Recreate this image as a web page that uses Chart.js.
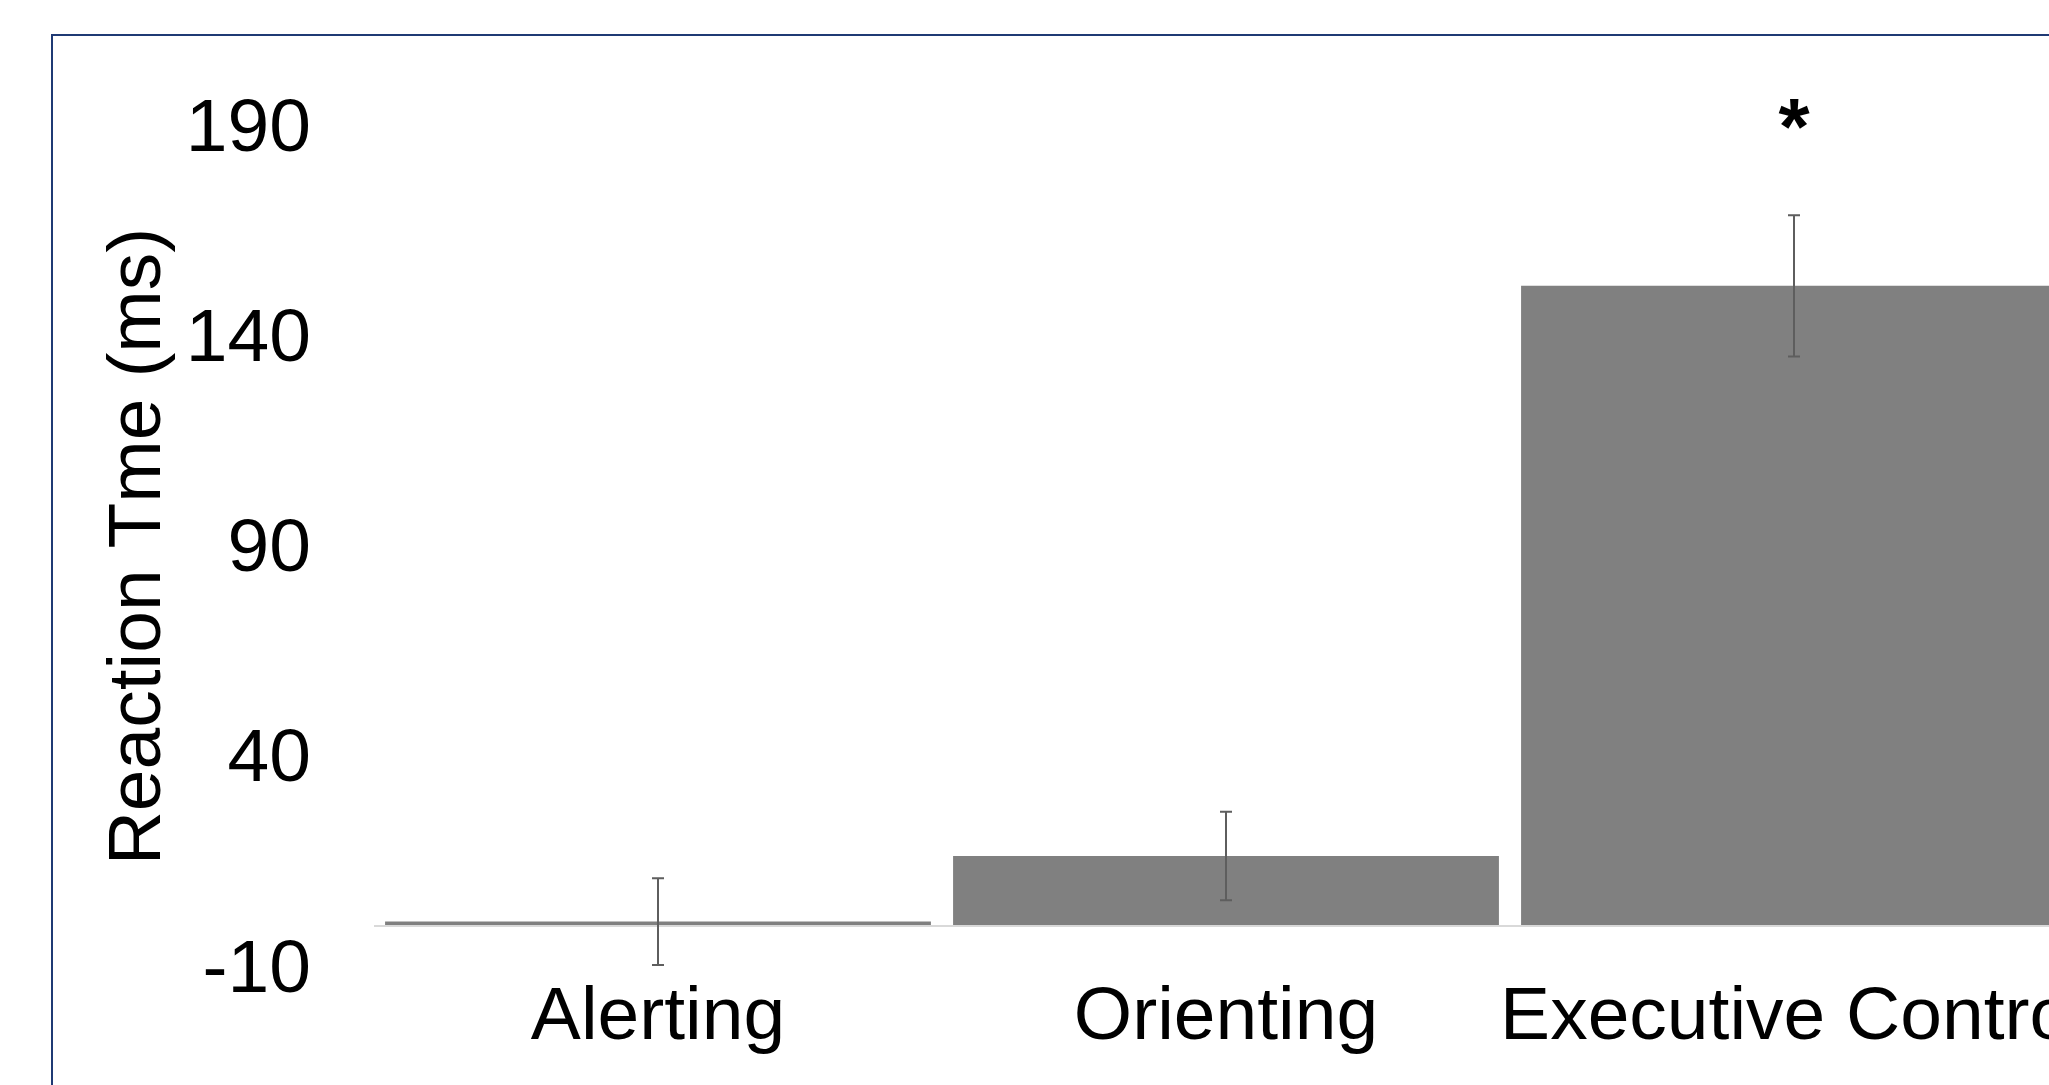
<!DOCTYPE html>
<html>
<head>
<meta charset="utf-8">
<title>Reaction Time by Attention Network</title>
<script src="https://cdn.jsdelivr.net/npm/chart.js@4.4.0/dist/chart.umd.min.js"></script>
<style>
  html, body { margin: 0; padding: 0; background: #ffffff; overflow: hidden; }
  #wrap { position: relative; width: 2200px; height: 1085px; }
</style>
</head>
<body>
<div id="wrap"><canvas id="rt" width="2200" height="1085"></canvas></div>
<script>
// Attention network effects (ms)
const categories = ['Alerting', 'Orienting', 'Executive Control'];
const meanRT = [0.8, 16.4, 152.0];
const errorRT = [10.3, 10.5, 16.8];
const significance = ['', '', '*'];
const yTicks = [-10, 40, 90, 140, 190];
const yTitle = 'Reaction Tme (ms)';

const FONT = '"Liberation Sans", Arial, Helvetica, sans-serif';

// Slide frame around the chart
const framePlugin = {
  id: 'frame',
  beforeDraw(chart) {
    const ctx = chart.ctx;
    ctx.save();
    ctx.strokeStyle = '#1F3A74';
    ctx.lineWidth = 2;
    ctx.strokeRect(52, 35, 4000, 4000);
    ctx.restore();
  }
};

// Light baseline at zero
const zeroLinePlugin = {
  id: 'zeroLine',
  beforeDatasetsDraw(chart) {
    const ctx = chart.ctx;
    const y = chart.scales.y.getPixelForValue(0);
    ctx.save();
    ctx.strokeStyle = '#D9D9D9';
    ctx.lineWidth = 2;
    ctx.beginPath();
    ctx.moveTo(chart.chartArea.left, y + 1);
    ctx.lineTo(chart.width, y + 1);
    ctx.stroke();
    ctx.restore();
  }
};

// Standard error bars
const errorBarPlugin = {
  id: 'errorBars',
  afterDatasetsDraw(chart) {
    const ctx = chart.ctx;
    const yScale = chart.scales.y;
    const meta = chart.getDatasetMeta(0);
    ctx.save();
    ctx.strokeStyle = '#5E5E5E';
    ctx.lineWidth = 2;
    meta.data.forEach((bar, i) => {
      const x = Math.round(bar.x);
      const yHi = yScale.getPixelForValue(meanRT[i] + errorRT[i]);
      const yLo = yScale.getPixelForValue(meanRT[i] - errorRT[i]);
      ctx.beginPath();
      ctx.moveTo(x, yHi); ctx.lineTo(x, yLo);
      ctx.moveTo(x - 6, yHi); ctx.lineTo(x + 6, yHi);
      ctx.moveTo(x - 6, yLo); ctx.lineTo(x + 6, yLo);
      ctx.stroke();
    });
    ctx.restore();
  }
};

// Significance markers above bars
const significancePlugin = {
  id: 'significance',
  afterDraw(chart) {
    const ctx = chart.ctx;
    const meta = chart.getDatasetMeta(0);
    ctx.save();
    ctx.fillStyle = '#000000';
    ctx.font = 'bold 80px ' + FONT;
    ctx.textAlign = 'center';
    ctx.textBaseline = 'alphabetic';
    meta.data.forEach((bar, i) => {
      if (significance[i]) {
        ctx.fillText(significance[i], bar.x, chart.chartArea.top + 28);
      }
    });
    ctx.restore();
  }
};

new Chart(document.getElementById('rt'), {
  type: 'bar',
  data: {
    labels: categories,
    datasets: [{
      data: meanRT,
      backgroundColor: '#808080',
      borderWidth: 0,
      barPercentage: 0.961,
      categoryPercentage: 1.0
    }]
  },
  options: {
    responsive: false,
    animation: false,
    devicePixelRatio: 1,
    layout: { padding: { left: 0, top: 126, right: 122, bottom: 0 } },
    plugins: {
      legend: { display: false },
      tooltip: { enabled: false }
    },
    scales: {
      x: {
        grid: { display: false, drawTicks: false },
        border: { display: false },
        ticks: {
          color: '#000000',
          font: { family: FONT, size: 75 },
          padding: 6,
          maxRotation: 0,
          autoSkip: false
        },
        afterFit(scale) { scale.height = 118; }
      },
      y: {
        min: -10,
        max: 190,
        grid: { display: false, drawTicks: false },
        border: { display: false },
        afterBuildTicks(scale) { scale.ticks = yTicks.map(v => ({ value: v })); },
        ticks: {
          color: '#000000',
          font: { family: FONT, size: 75 },
          padding: 63,
          labelOffset: 4
        },
        title: {
          display: true,
          text: yTitle,
          color: '#000000',
          font: { family: FONT, size: 75 },
          padding: { top: 94, bottom: 0 }
        },
        afterFit(scale) { scale.width = 374; }
      }
    }
  },
  plugins: [framePlugin, zeroLinePlugin, errorBarPlugin, significancePlugin]
});
</script>
</body>
</html>
